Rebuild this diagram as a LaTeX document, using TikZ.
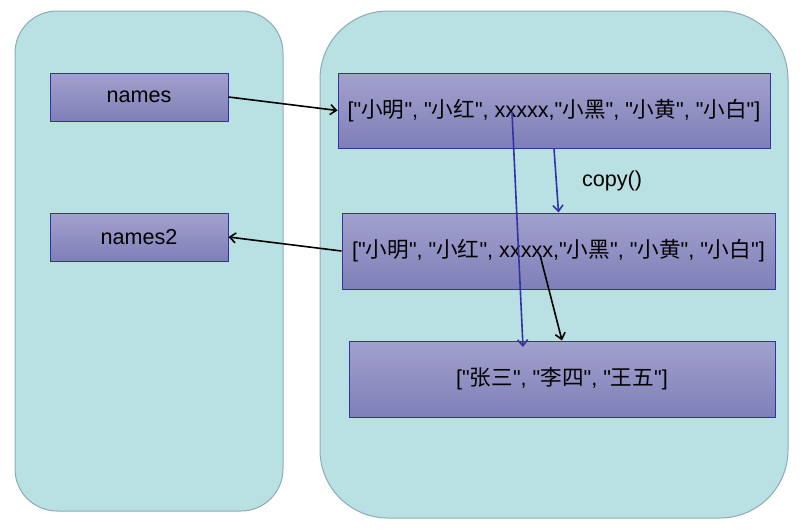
\documentclass[tikz,border=0pt]{standalone}
\usepackage{fontspec}
\setmainfont{Liberation Sans}[Ligatures=TeXOff]
\newfontfamily\cjk{Noto Sans CJK SC}
\usetikzlibrary{arrows.meta}
\definecolor{panelfill}{RGB}{185,224,227}
\definecolor{paneldraw}{RGB}{140,172,176}
\definecolor{boxtop}{RGB}{162,161,204}
\definecolor{boxbot}{RGB}{127,127,185}
\definecolor{boxdraw}{RGB}{50,50,160}
\definecolor{blueline}{RGB}{50,50,165}
\tikzset{
  panel/.style={fill=panelfill,draw=paneldraw,line width=1pt},
  varbox/.style={draw=boxdraw,line width=1pt,top color=boxtop,bottom color=boxbot,
    inner sep=0pt,font=\fontsize{21.6}{25}\selectfont,text=black},
  blk/.style={draw=black,line width=1.6pt,-{Straight Barb[length=6pt,width=10pt,line width=1.6pt]}},
  blu/.style={draw=blueline,line width=1.6pt,-{Straight Barb[length=6pt,width=10pt,line width=1.6pt]}},
  lbl/.style={font=\fontsize{21.6}{25}\selectfont,text=black}
}
\newcommand{\cj}[1]{{\cjk #1}}
\begin{document}
\begin{tikzpicture}[x=1pt,y=-1pt]
\useasboundingbox (0,0) rectangle (800,530);
\draw[panel,rounded corners=42pt] (15,11) rectangle (283,511);
\draw[panel,rounded corners=68pt] (320,11) rectangle (788,518);
\node[varbox,minimum width=178pt,minimum height=48pt] (names) at (139,97) {names};
\node[varbox,minimum width=178pt,minimum height=48pt] (names2) at (139,237) {names2};
\node[varbox,minimum width=432pt,minimum height=75pt] (list1) at (554,110.5)
  {["\cj{小明}", "\cj{小红}", xxxxx,"\cj{小黑}", "\cj{小黄}", "\cj{小白}"]};
\node[varbox,minimum width=433pt,minimum height=76pt] (list2) at (558.5,251)
  {["\cj{小明}", "\cj{小红}", xxxxx,"\cj{小黑}", "\cj{小黄}", "\cj{小白}"]};
\node[varbox,minimum width=426pt,minimum height=76pt] (list3) at (562,379)
  {["\cj{张三}", "\cj{李四}", "\cj{王五}"]};
\node[lbl] (copylbl) at (612,181) {copy()};
\coordinate (p1) at (512,112);
\coordinate (p3) at (523,347);
\coordinate (p2) at (540,255);
\draw[blk] (names.east) -- (list1.west);
\draw[blk] (list2.west) -- (names2.east);
\draw[blu] (list1.south) -- (list2.north);
\draw[blu] (p1) -- (p3);
\draw[blk] (p2) -- (list3.north);
\end{tikzpicture}
\end{document}
